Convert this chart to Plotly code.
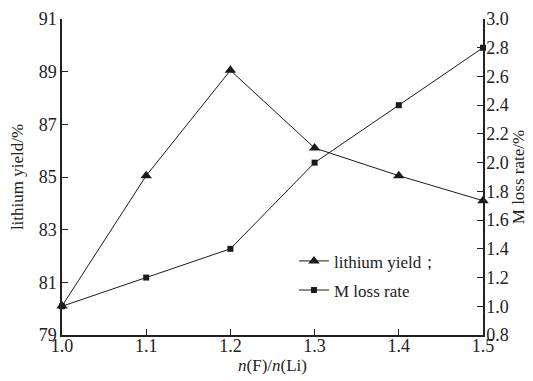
import plotly.graph_objects as go

ratio = [1.0, 1.1, 1.2, 1.3, 1.4, 1.5]
lithium_yield = [80.1, 85.05, 89.05, 86.1, 85.05, 84.1]
m_loss_rate = [1.0, 1.2, 1.4, 2.0, 2.4, 2.8]

left_ticks = [79, 81, 83, 85, 87, 89, 91]
right_ticks = [0.8, 1.0, 1.2, 1.4, 1.6, 1.8, 2.0, 2.2, 2.4, 2.6, 2.8, 3.0]
x_ticks = [1.0, 1.1, 1.2, 1.3, 1.4, 1.5]

font = "Liberation Serif, Times New Roman, serif"
ink = "#222"

fig = go.Figure()
fig.add_trace(go.Scatter(
    x=ratio, y=lithium_yield, name="lithium yield；", mode="lines+markers",
    line=dict(color="#1a1a1a", width=1), legendgroup="a",
    marker=dict(symbol="triangle-up", size=10, color="#1a1a1a"),
    cliponaxis=False, yaxis="y"))
fig.add_trace(go.Scatter(
    x=ratio, y=m_loss_rate, name="M loss rate", mode="lines+markers",
    line=dict(color="#1a1a1a", width=1), legendgroup="b",
    marker=dict(symbol="square", size=6, color="#1a1a1a"),
    cliponaxis=False, yaxis="y2"))

fig.update_layout(
    width=525, height=373,
    margin=dict(l=54, r=50, t=11, b=46),
    paper_bgcolor="white", plot_bgcolor="white",
    font=dict(family=font, size=18, color=ink),
    showlegend=True,
    legend=dict(x=0.551, y=0.29, xanchor="left", yanchor="top",
                bgcolor="rgba(0,0,0,0)", font=dict(size=17),
                itemwidth=30, tracegroupgap=4, traceorder="grouped"),
    xaxis=dict(range=[1.0, 1.5], tickvals=x_ticks, ticktext=[f"{v:.1f}" for v in x_ticks],
               ticks="inside", ticklen=6, tickcolor=ink, showline=True,
               linecolor=ink, linewidth=1.5, showgrid=False, zeroline=False,
               ticklabelstandoff=-6, automargin=False,
               title=dict(text="<i>n</i>(F)/<i>n</i>(Li)", standoff=4, font=dict(size=17))),
    yaxis=dict(range=[79, 91], tickvals=left_ticks, ticks="inside", ticklen=6,
               tickcolor=ink, showline=True, linecolor=ink, linewidth=1.5,
               showgrid=False, zeroline=False, automargin=False,
               title=dict(text="lithium yield/%", standoff=11, font=dict(size=17))),
    yaxis2=dict(range=[0.8, 3.0], tickvals=right_ticks,
                ticktext=[f"{v:.1f}" for v in right_ticks], overlaying="y", side="right",
                ticks="inside", ticklen=6, tickcolor=ink, showline=True,
                linecolor=ink, linewidth=1.5, showgrid=False, zeroline=False,
                ticklabelstandoff=-2, automargin=False,
                title=dict(text="M loss rate/%", standoff=4, font=dict(size=17))),
)

fig.write_html("out.html")
